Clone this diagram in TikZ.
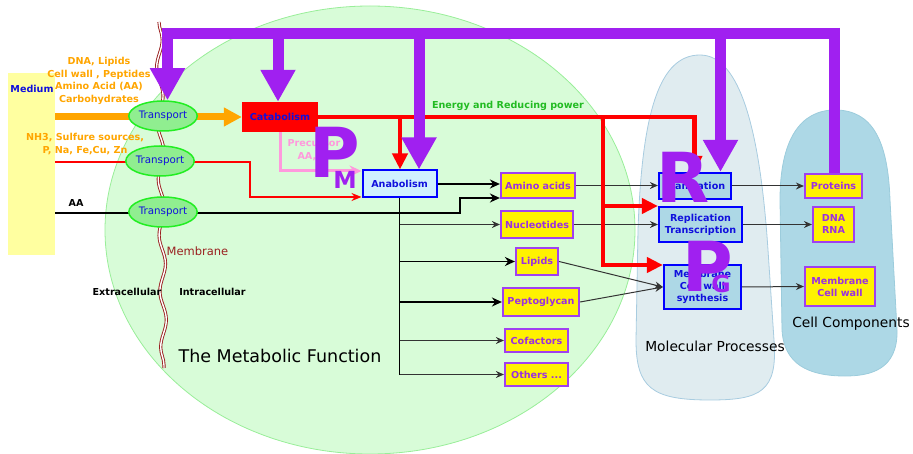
\documentclass[tikz,border=0pt]{standalone}
\usepackage{fontspec}
\setmainfont{DejaVu Sans}
\usetikzlibrary{arrows.meta,decorations.pathmorphing,shapes.geometric,calc}
\definecolor{purp}{HTML}{A020F0}
\definecolor{boxpurp}{HTML}{A040F0}
\definecolor{txtpurp}{HTML}{9B30E0}
\definecolor{orng}{HTML}{FFA500}
\definecolor{pinkk}{HTML}{FF99DD}
\definecolor{cellgreen}{HTML}{D8FCD8}
\definecolor{cellborder}{HTML}{99EE99}
\definecolor{molfill}{HTML}{E0ECF0}
\definecolor{molborder}{HTML}{A8CCE0}
\definecolor{compfill}{HTML}{ADD8E6}
\definecolor{compborder}{HTML}{9CCCDC}
\definecolor{trfill}{HTML}{90EE90}
\definecolor{trborder}{HTML}{22EE22}
\definecolor{memcol}{HTML}{9A2020}
\definecolor{medfill}{HTML}{FFFFA0}
\definecolor{anafill}{HTML}{D0F0FF}
\definecolor{txtblue}{HTML}{1010DD}
\definecolor{engreen}{HTML}{22BB22}
\begin{document}
\begin{tikzpicture}[x=1pt,y=-1pt,
  bf/.style={font=\fontsize{9.6}{12}\selectfont\bfseries},
  ybox/.style={draw=boxpurp, fill=yellow, line width=2.2pt, text=txtpurp, bf, inner sep=0pt, align=center},
  bbox/.style={draw=blue, fill=compfill, line width=2.2pt, text=txtblue, bf, inner sep=0pt, align=center},
  trans/.style={ellipse, draw=trborder, fill=trfill, line width=1.5pt, minimum width=56pt, minimum height=30pt, inner sep=0pt, text=txtblue, font=\fontsize{10.3}{12}\selectfont},
  lconn/.style={draw=black!80, line width=1pt, -{Stealth[length=8pt,width=7pt]}},
  hconn/.style={draw=black, line width=1.9pt, -{Stealth[length=10pt,width=9pt]}},
  bus/.style={draw=purp, line width=11pt},
  busarrow/.style={draw=purp, line width=11pt, -{Triangle[length=32pt,width=33pt]}},
  energy/.style={draw=red, line width=4.5pt},
  enarrow/.style={energy, -{Triangle[length=16pt,width=15pt]}},
  bigl/.style={text=purp, font=\fontsize{69}{69}\selectfont\bfseries, inner sep=0pt, anchor=base},
  subl/.style={text=purp, font=\fontsize{23.5}{24}\selectfont\bfseries, inner sep=0pt, anchor=base},
]
\useasboundingbox (0,0) rectangle (913,454);
% backgrounds
\filldraw[fill=cellgreen, draw=cellborder, line width=0.8pt] (370,230) ellipse [x radius=265, y radius=224];
\filldraw[fill=molfill, draw=molborder, line width=0.8pt]
  (700,55) .. controls (740,55) and (760,130) .. (768,250) -- (774,340)
  .. controls (778,392) and (760,400) .. (710,400)
  .. controls (652,400) and (636,388) .. (636,340) -- (638,230)
  .. controls (642,110) and (660,55) .. (700,55) -- cycle;
\filldraw[fill=compfill, draw=compborder, line width=0.8pt]
  (835,110) .. controls (872,110) and (888,140) .. (890,200) -- (897,330)
  .. controls (898,370) and (870,376) .. (845,376)
  .. controls (808,376) and (784,364) .. (782,330) -- (780,200)
  .. controls (780,140) and (800,110) .. (835,110) -- cycle;
\fill[medfill] (8,73) rectangle (55,255);
% membrane
\draw[memcol, line width=0.9pt, double=white, double distance=1.4pt, decorate,
  decoration={snake, segment length=56pt, amplitude=3pt}] (159,22) -- (164,368);
% texts
\node[bf, text=txtblue] (medium) at (32,89) {Medium};
\node[text=orng, align=center, font=\fontsize{9.6}{12.5}\selectfont\bfseries] (srcA) at (99,81) {DNA, Lipids\\Cell wall , Peptides\\Amino Acid (AA)\\Carbohydrates};
\node[text=orng, align=center, font=\fontsize{9.6}{12.5}\selectfont\bfseries] (srcB) at (85,144) {NH3, Sulfure sources,\\P, Na, Fe,Cu, Zn};
\node[bf] (aalab) at (76,203) {AA};
\node[text=memcol, font=\fontsize{11.5}{13}\selectfont] (memlab) at (197.5,251) {Membrane};
\node[bf] (extra) at (127,292) {Extracellular};
\node[bf] (intra) at (212.5,292) {Intracellular};
\node[font=\fontsize{17.5}{20}\selectfont] (metab) at (280,356) {The Metabolic Function};
\node[font=\fontsize{13.8}{16}\selectfont] (molp) at (715,346) {Molecular Processes};
\node[font=\fontsize{13.8}{16}\selectfont] (cellc) at (851,324) {Cell Components};
\node[bf, text=engreen] (enlabel) at (508,106) {Energy and Reducing power};
\node[text=pinkk, align=center, font=\fontsize{9.6}{13}\selectfont\bfseries] (prec) at (314,150) {Precursor\\AA, ...};
% main boxes
\node[fill=red, minimum width=76pt, minimum height=30pt, text=txtblue, bf, inner sep=0pt] (cat) at (280,117) {Catabolism};
\node[draw=blue, fill=anafill, line width=2pt, minimum width=74pt, minimum height=27pt, text=txtblue, bf, inner sep=0pt] (ana) at (399.5,184) {Anabolism};
\node[ybox, minimum width=74pt, minimum height=25pt] (amino) at (538,185.5) {Amino acids};
\node[ybox, minimum width=72pt, minimum height=27pt] (nucl) at (537,224.5) {Nucleotides};
\node[ybox, minimum width=42pt, minimum height=27pt] (lipids) at (537,261.5) {Lipids};
\node[ybox, minimum width=76pt, minimum height=28pt] (pepto) at (541,302) {Peptoglycan};
\node[ybox, minimum width=63pt, minimum height=23pt] (cofac) at (536.5,340.5) {Cofactors};
\node[ybox, minimum width=63pt, minimum height=23pt] (others) at (536.5,374.5) {Others ...};
\node[bbox, minimum width=72pt, minimum height=26pt] (transl) at (695,186) {Translation};
\node[bbox, minimum width=83pt, minimum height=35pt] (repl) at (700.5,224.5) {Replication\\Transcription};
\node[bbox, minimum width=77pt, minimum height=44pt] (memsyn) at (702.5,287) {Membrane\\Cell wall\\synthesis};
\node[ybox, minimum width=57pt, minimum height=24pt] (proteins) at (833.5,186) {Proteins};
\node[ybox, minimum width=41pt, minimum height=35pt] (dna) at (833.5,224.5) {DNA\\RNA};
\node[ybox, minimum width=70pt, minimum height=39pt] (memwall) at (840,286.5) {Membrane\\Cell wall};
% medium entry points
\coordinate (in1) at (55,117);
\coordinate (in2) at (55,162);
\coordinate (in3) at (55,213);
% inputs through membrane
\draw[orng, line width=7pt, -{Triangle[length=18pt,width=18pt]}] (in1) -- (cat.west);
\draw[red, line width=1.5pt, -{Stealth[length=10pt,width=8pt]}] (in2) -- (250,162) -- (250,197) -- (ana.west |- {(0,197)});
\draw[black, line width=2.2pt, -{Stealth[length=10pt,width=9pt]}] (in3) -- (460,213) -- (460,198) -- (amino.west |- {(0,198)});
\node[trans] (t1) at (163,116) {Transport};
\node[trans] (t2) at (160,161) {Transport};
\node[trans] (t3) at (163,212) {Transport};
% precursors
\draw[pinkk, line width=3pt, -{Stealth[length=12pt,width=11pt]}] (cat.south) |- ($(ana.north west)+(0,1.5)$);
% anabolism outputs
\draw[hconn] (ana.east) -- (amino.west |- ana.east);
\draw[black, line width=1.9pt] (ana.south) -- (ana.south |- pepto.west);
\draw[black, line width=1pt] (ana.south |- pepto.west) -- (ana.south |- others.west);
\draw[lconn] (ana.south |- nucl.west) -- (nucl.west);
\draw[hconn] (ana.south |- lipids.west) -- (lipids.west);
\draw[hconn] (ana.south |- pepto.west) -- (pepto.west);
\draw[lconn] (ana.south |- cofac.west) -- (cofac.west);
\draw[lconn] (ana.south |- others.west) -- (others.west);
% to molecular processes
\draw[lconn] (amino.east) -- (transl.west |- amino.east);
\draw[lconn] (nucl.east) -- (repl.west |- nucl.east);
\draw[lconn] (lipids.east) -- (memsyn.west);
\draw[lconn] (pepto.east) -- (memsyn.west);
\draw[lconn] (transl.east) -- (proteins.west |- transl.east);
\draw[lconn] (repl.east) -- (dna.west);
\draw[lconn] (memsyn.east) -- (memwall.west);
% energy
\coordinate (eA) at (400,117);
\coordinate (eB) at (603,117);
\coordinate (eC) at (694.5,117);
\draw[enarrow] (cat.east) -- (eC) -- (transl.north -| eC);
\draw[enarrow] (eA) -- (ana.north -| eA);
\draw[enarrow] (eB) -- (eB |- {(0,265)}) -- (memsyn.west |- {(0,265)});
\draw[enarrow] (eB |- {(0,206)}) -- (repl.west |- {(0,206)});
% purple regulation bus
\coordinate (b1) at (167.5,33.5);
\coordinate (b2) at (278,33.5);
\coordinate (b3) at (419,33.5);
\coordinate (b4) at (720.5,33.5);
\coordinate (b5) at (834,28);
\draw[bus] (162,33.5) -- (840,33.5);
\draw[busarrow] (b1) -- (t1.north -| b1);
\draw[busarrow] (b2) -- (cat.north -| b2);
\draw[busarrow] (b3) -- (ana.north -| b3);
\draw[busarrow] (b4) -- (transl.north -| b4);
\draw[bus] (b5) -- (proteins.north -| b5);
% big letters
\node[bigl] (PM) at (334.5,178) {P};
\node[subl] (PMs) at (345,189) {M};
\node[bigl] (RR) at (683.5,202.5) {R};
\node[bigl] (PG) at (708,292) {P};
\node[subl] (PGs) at (721,293) {G};
\end{tikzpicture}
\end{document}
